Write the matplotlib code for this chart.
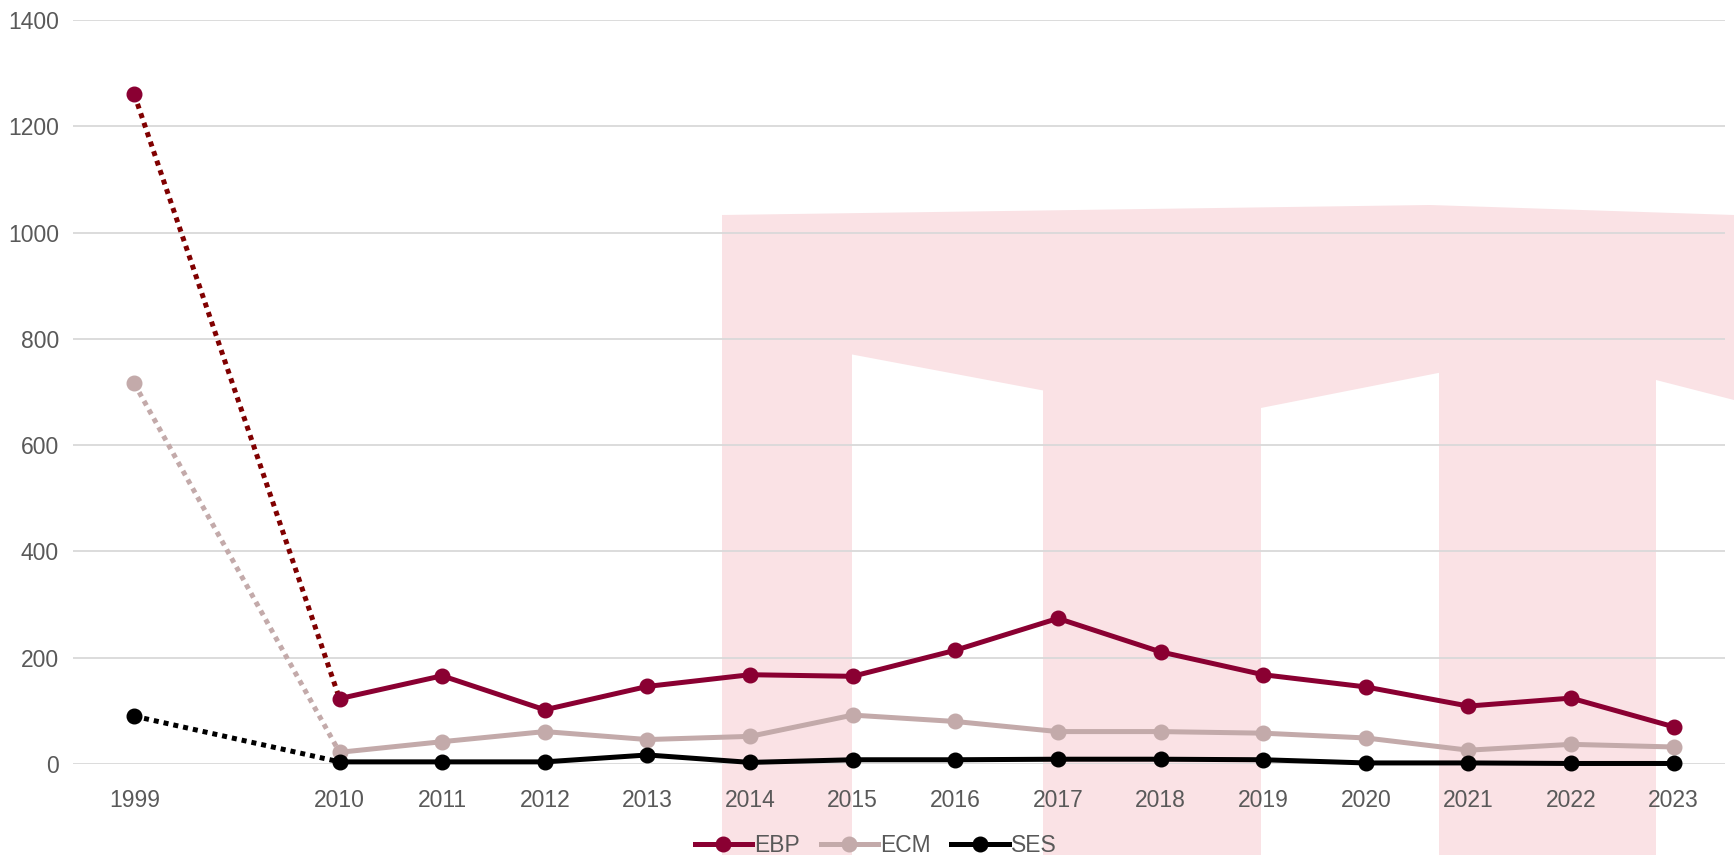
import numpy as np
import matplotlib.pyplot as plt
from matplotlib.patches import Rectangle, Polygon
from matplotlib.lines import Line2D

plt.rcParams['font.family'] = ['Liberation Sans', 'DejaVu Sans']

# categories (the empty one is the gap between 1999 and 2010)
cats = ['1999', '', '2010', '2011', '2012', '2013', '2014', '2015', '2016',
        '2017', '2018', '2019', '2020', '2021', '2022', '2023']
nan = np.nan
ebp = [1260, nan, 123, 166, 102, 146, 168, 165, 214, 274, 211, 168, 145, 109, 124, 70]
ecm = [716, nan, 22, 42, 61, 46, 52, 92, 80, 61, 61, 58, 49, 26, 37, 32]
ses = [90, nan, 4, 4, 4, 17, 3, 8, 8, 9, 9, 8, 2, 2, 1, 1]

series = [('EBP', ebp, '#8A0032', '#800000'),
          ('ECM', ecm, '#C3AAAA', '#C3AAAA'),
          ('SES', ses, '#000000', '#000000')]

fig = plt.figure(figsize=(17.34, 8.55), dpi=100)

# faint pink watermark behind the chart
W, H = 1734, 855
pink = '#FAE2E5'
def fpx(x, y):
    return (x / W, 1 - y / H)
for x0, x1 in [(722, 852), (1043, 1261), (1439, 1656)]:
    fig.patches.append(Rectangle(fpx(x0, H), (x1 - x0) / W, (H - 230) / H,
                                 transform=fig.transFigure, color=pink, zorder=0, lw=0))
fig.patches.append(Polygon([fpx(722, 215), fpx(1430, 205), fpx(1734, 215), fpx(1734, 400),
                            fpx(1656, 380), fpx(1656, 330), fpx(1200, 420), fpx(722, 330)],
                           closed=True, transform=fig.transFigure, color=pink, zorder=0, lw=0))

ax = fig.add_axes([72.7 / W, 1 - 764 / H, (1725 - 72.7) / W, (764 - 20) / H])
ax.set_zorder(2)
ax.patch.set_alpha(0)

x = np.arange(len(cats))
for name, vals, col, dcol in series:
    v = np.array(vals, dtype=float)
    # dotted link from 1999 to 2010
    ax.plot([x[0], x[2]], [v[0], v[2]], color=dcol, lw=3.6, ls=(0, (1, 1)),
            dash_capstyle='butt', zorder=2, clip_on=False)
    ax.plot(x[2:], v[2:], color=col, lw=3.6, marker='o', ms=10.5, zorder=3,
            clip_on=False, solid_joinstyle='round')
    ax.plot(x[:1], v[:1], color=col, marker='o', ms=10.5, ls='none', zorder=3, clip_on=False)

ax.set_xlim(-0.6, 15.5)
ax.set_ylim(0, 1400)
ax.set_yticks(range(0, 1401, 200))
ax.set_xticks(x)
ax.set_xticklabels(cats)
ax.grid(axis='y', color='#D9D9D9', lw=1.3)
ax.set_axisbelow(True)
for s in ax.spines.values():
    s.set_visible(False)
ax.tick_params(length=0, labelsize=16.5, labelcolor='#595959')
ax.tick_params(axis='y', pad=10)
ax.tick_params(axis='x', pad=18)

handles = [Line2D([], [], color=col, lw=3.6, marker='o', ms=10.5) for _, _, col, _ in series]
fig.legend(handles, [s[0] for s in series], loc='lower center', bbox_to_anchor=(0.505, -0.026),
           ncol=3, frameon=False, fontsize=16.5, labelcolor='#595959',
           handlelength=2.5, handletextpad=0.1, columnspacing=0.9, numpoints=1)

fig.savefig('out.png', dpi=100)
